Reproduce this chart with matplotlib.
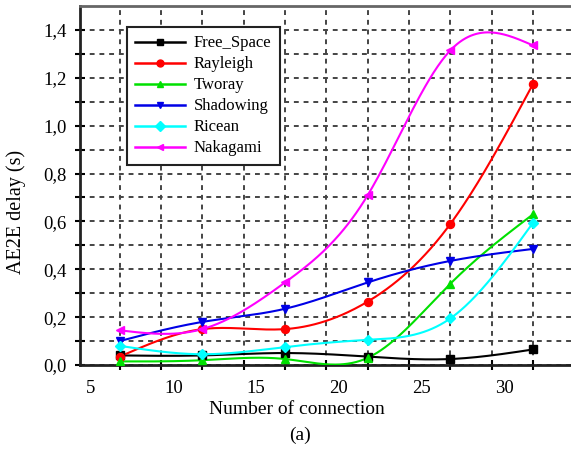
import numpy as np
import matplotlib.pyplot as plt
from matplotlib.ticker import FixedLocator, FuncFormatter

connections = [6.75, 11.75, 16.75, 21.75, 26.75, 31.75]
free_space = [0.04, 0.04, 0.05, 0.035, 0.025, 0.065]
rayleigh = [0.035, 0.15, 0.15, 0.265, 0.59, 1.175]
tworay = [0.015, 0.02, 0.025, 0.03, 0.34, 0.63]
shadowing = [0.10, 0.18, 0.235, 0.345, 0.435, 0.485]
ricean = [0.08, 0.045, 0.075, 0.105, 0.195, 0.595]
nakagami = [0.145, 0.15, 0.345, 0.71, 1.315, 1.335]

x_ticks = [5, 10, 15, 20, 25, 30]
y_ticks = [0.0, 0.2, 0.4, 0.6, 0.8, 1.0, 1.2, 1.4]


def natural_spline(x, y, n=300):
    # natural cubic spline through the points, for a smooth connecting line
    x = np.asarray(x, float)
    y = np.asarray(y, float)
    k = len(x)
    h = np.diff(x)
    A = np.zeros((k, k))
    b = np.zeros(k)
    A[0, 0] = A[-1, -1] = 1
    for i in range(1, k - 1):
        A[i, i - 1] = h[i - 1]
        A[i, i] = 2 * (h[i - 1] + h[i])
        A[i, i + 1] = h[i]
        b[i] = 6 * ((y[i + 1] - y[i]) / h[i] - (y[i] - y[i - 1]) / h[i - 1])
    m = np.linalg.solve(A, b)
    xs = np.linspace(x[0], x[-1], n)
    idx = np.clip(np.searchsorted(x, xs) - 1, 0, k - 2)
    x0, x1 = x[idx], x[idx + 1]
    hh = x1 - x0
    t0, t1 = x1 - xs, xs - x0
    ys = (m[idx] * t0 ** 3 + m[idx + 1] * t1 ** 3) / (6 * hh) \
        + (y[idx] / hh - m[idx] * hh / 6) * t0 \
        + (y[idx + 1] / hh - m[idx + 1] * hh / 6) * t1
    return xs, ys


plt.rcParams['font.family'] = ['Liberation Serif', 'DejaVu Serif']

fig = plt.figure(figsize=(5.71, 4.49), dpi=100)
ax = fig.add_axes([80 / 571, 84 / 449, 492 / 571, 359 / 449])

series = [
    ('Free_Space', free_space, 'black', 's'),
    ('Rayleigh', rayleigh, '#ff0000', 'o'),
    ('Tworay', tworay, '#00e000', '^'),
    ('Shadowing', shadowing, '#0000e6', 'v'),
    ('Ricean', ricean, '#00ffff', 'D'),
    ('Nakagami', nakagami, '#ff00ff', '<'),
]

handles = []
for name, vals, col, mk in series:
    xs, ys = natural_spline(connections, vals)
    ax.plot(xs, ys, color=col, lw=1.5, zorder=3)
    ms = 4.8 if mk == 'D' else 5.8
    ax.plot(connections, vals, ls='none', marker=mk, ms=ms, color=col, zorder=4)
    h, = ax.plot([], [], color=col, lw=1.8, marker=mk, ms=5, label=name)
    handles.append(h)

ax.set_xlim(4.35, 34.1)
ax.set_ylim(0, 1.5)

# labelled ticks carry no marks; the grid sits on the data positions
ax.xaxis.set_major_locator(FixedLocator(x_ticks))
ax.xaxis.set_minor_locator(FixedLocator([6.75 + 2.5 * i for i in range(11)]))
ax.yaxis.set_major_locator(FixedLocator(y_ticks))
ax.yaxis.set_minor_locator(FixedLocator([0.1, 0.3, 0.5, 0.7, 0.9, 1.1, 1.3]))
ax.yaxis.set_major_formatter(FuncFormatter(lambda v, p: f'{v:.1f}'.replace('.', ',')))

ax.tick_params(axis='x', which='major', length=0, pad=11, labelsize=13.5)
ax.tick_params(axis='x', which='minor', direction='inout', length=7, width=1.5)
ax.tick_params(axis='y', which='both', direction='inout', length=7, width=1.5,
               labelsize=13.5, pad=6)

grid_kw = dict(color='#444444', lw=1.4, ls=(0, (2.5, 2.5)))
ax.xaxis.grid(True, which='minor', **grid_kw)
ax.yaxis.grid(True, which='both', **grid_kw)
ax.set_axisbelow(True)

for side in ('left', 'bottom'):
    ax.spines[side].set_linewidth(2)
    ax.spines[side].set_color('#222222')
ax.spines['top'].set_linewidth(2)
ax.spines['top'].set_color('#666666')
ax.spines['right'].set_visible(False)

ax.set_ylabel('AE2E delay (s)', fontsize=14.5)
ax.yaxis.set_label_coords(-0.11, 0.426)
ax.set_xlabel('Number of connection', fontsize=14)
ax.xaxis.set_label_coords(0.441, -0.1)
fig.text(300 / 571, 1 - 435 / 449, '(a)', fontsize=14, ha='center', va='center')

leg = ax.legend(handles=handles, loc='upper left', bbox_to_anchor=(0.0955, 0.9415),
                borderaxespad=0, fancybox=False, framealpha=1, edgecolor='#222222',
                fontsize=12, handlelength=3.0, labelspacing=0.3, borderpad=0.5,
                handletextpad=0.5)
leg.get_frame().set_linewidth(1.5)

fig.savefig('out.png', dpi=100)
